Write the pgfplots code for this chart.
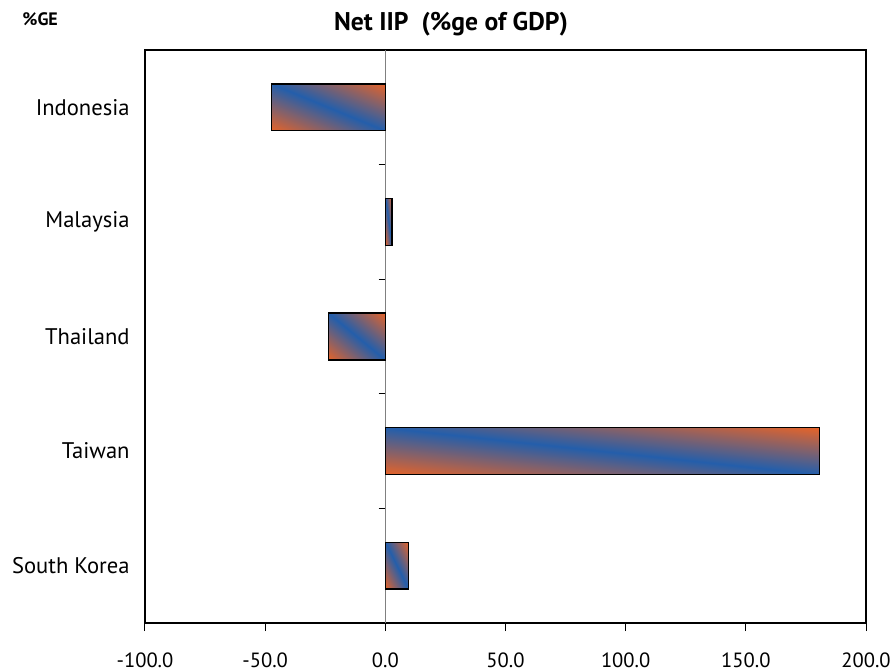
\documentclass[border=0pt]{standalone}
\usepackage{fontspec}
\setmainfont{PT Sans}
\usepackage{pgfplots}
\pgfplotsset{compat=1.18}

% Diagonal orange-blue-orange gradient, stretched to each bar's box
% (the box maps to the central 25bp..75bp part of the shading):
% blue along the top-left/bottom-right diagonal, orange in the other corners.
\pgfdeclarefunctionalshading{barshade}{\pgfpointorigin}{\pgfpoint{100bp}{100bp}}{}{%
  add 100 sub abs 50 div
  dup 1 sub abs neg add 1 add 2 div
  dup 0.76 mul 0.14 add exch
  dup 0.02 mul 0.37 add exch
  -0.51 mul 0.67 add
}

\begin{document}
\begin{tikzpicture}
\begin{axis}[
  scale only axis,
  width=360.5pt, height=286.5pt,
  xmin=-100, xmax=200, ymin=-0.5, ymax=4.5,
  xtick={-100,-50,0,50,100,150,200},
  xticklabels={-100.0,-50.0,0.0,50.0,100.0,150.0,200.0},
  xtick pos=bottom,
  tick align=outside,
  major tick length=4pt,
  x tick style={black, line width=0.5pt},
  ytick={0,1,2,3,4},
  yticklabels={South Korea,Taiwan\hspace{3pt},Thailand,Malaysia,Indonesia},
  ytick pos=left,
  y tick style={draw=none},
  yticklabel style={font=\fontsize{11.3}{13}\selectfont, inner sep=0pt, xshift=-3.5pt},
  xticklabel style={font=\fontsize{10.3}{12}\selectfont, inner sep=0pt, yshift=-10.5pt},
  axis line style={black, line width=0.6pt},
  unbounded coords=jump,
  netbar/.style={xbar, bar width=0.41, draw=black, line width=0.7pt, shade, shading=barshade},
]
  % zero line
  \addplot[gray, line width=0.7pt] coordinates {(0,-0.5) (0,4.5)};
  % Net IIP, %ge of GDP -- one plot per bar so each bar gets its own gradient
  \addplot[netbar] coordinates {(9.6,0)};    % South Korea
  \addplot[netbar] coordinates {(180.6,1)};  % Taiwan
  \addplot[netbar] coordinates {(-23.7,2)};  % Thailand
  \addplot[netbar] coordinates {(2.7,3)};    % Malaysia
  \addplot[netbar] coordinates {(-47.3,4)};  % Indonesia
  % category separators on the zero line
  \addplot[black, line width=0.5pt] coordinates {
    (-2.8,0.5) (0,0.5) (nan,nan)
    (-2.8,1.5) (0,1.5) (nan,nan)
    (-2.8,2.5) (0,2.5) (nan,nan)
    (-2.8,3.5) (0,3.5)};
  \coordinate (bl) at (rel axis cs:0,0);
  \coordinate (tl) at (rel axis cs:0,1);
  \coordinate (tr) at (rel axis cs:1,1);
\end{axis}
\node[anchor=base, font=\bfseries\fontsize{12.8}{14}\selectfont, inner sep=0pt]
  at ([shift={(153pt,9.5pt)}]tl) {Net IIP\ \ (\%ge of GDP)};
\node[anchor=base west, font=\bfseries\fontsize{9}{10}\selectfont, inner sep=0pt]
  at ([shift={(-61.5pt,12pt)}]tl) {\%GE};
\pgfresetboundingbox
\path ([shift={(-72.5pt,-24pt)}]bl) rectangle ([shift={(14pt,25pt)}]tr);
\end{tikzpicture}
\end{document}
